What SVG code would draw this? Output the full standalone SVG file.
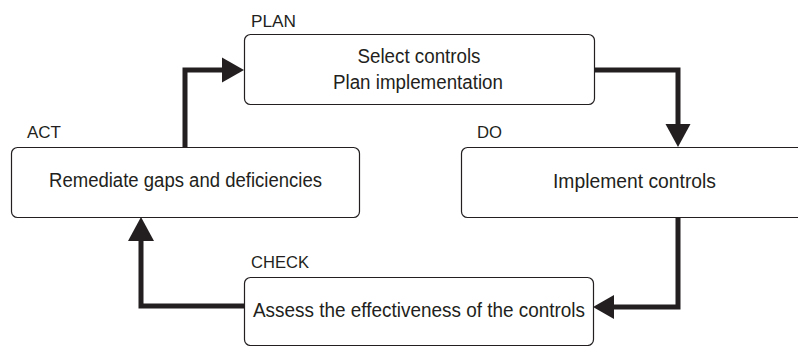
<svg xmlns="http://www.w3.org/2000/svg" width="798" height="346" viewBox="0 0 798 346">
<style>
.box{fill:#fff;stroke:#231f20;stroke-width:1.2}
.t{font-family:"Liberation Sans",Arial,sans-serif;font-size:19.5px;fill:#231f20;text-anchor:middle}
.l{font-family:"Liberation Sans",Arial,sans-serif;font-size:17px;fill:#231f20}
.c{fill:none;stroke:#231f20;stroke-width:5;stroke-linejoin:miter}
.ah{fill:#231f20}
</style>
<rect width="798" height="346" fill="#fff"/>
<g id="connectors">
<path class="c" d="M185,148 V70 H224"/>
<polygon class="ah" points="244,70 222,57.5 222,82.5"/>
<path class="c" d="M594,70 H678 V126"/>
<polygon class="ah" points="678,147 665.5,124 690.5,124"/>
<path class="c" d="M678,217 V307 H612"/>
<polygon class="ah" points="593,307 614,295 614,319"/>
<path class="c" d="M244,306 H141 V238"/>
<polygon class="ah" points="141,217 128,241 154,241"/>
</g>
<g id="plan">
<rect class="box" x="244.5" y="34.5" width="350" height="70" rx="6"/>
<text class="l" x="251" y="27" textLength="45" lengthAdjust="spacingAndGlyphs">PLAN</text>
<text class="t" x="419" y="63" textLength="123" lengthAdjust="spacingAndGlyphs">Select controls</text>
<text class="t" x="418" y="89" textLength="170" lengthAdjust="spacingAndGlyphs">Plan implementation</text>
</g>
<g id="do">
<rect class="box" x="461.5" y="147.5" width="350" height="70" rx="6"/>
<text class="l" x="477" y="138" textLength="25" lengthAdjust="spacingAndGlyphs">DO</text>
<text class="t" x="634.5" y="188" textLength="163" lengthAdjust="spacingAndGlyphs">Implement controls</text>
</g>
<g id="check">
<rect class="box" x="244.5" y="277.5" width="349" height="68" rx="6"/>
<text class="l" x="251" y="268" textLength="58" lengthAdjust="spacingAndGlyphs">CHECK</text>
<text class="t" x="419" y="317" textLength="332" lengthAdjust="spacingAndGlyphs">Assess the effectiveness of the controls</text>
</g>
<g id="act">
<rect class="box" x="11.5" y="147.5" width="348" height="70" rx="6"/>
<text class="l" x="27" y="138" textLength="34" lengthAdjust="spacingAndGlyphs">ACT</text>
<text class="t" x="185.5" y="187" textLength="273" lengthAdjust="spacingAndGlyphs">Remediate gaps and deficiencies</text>
</g>
</svg>
